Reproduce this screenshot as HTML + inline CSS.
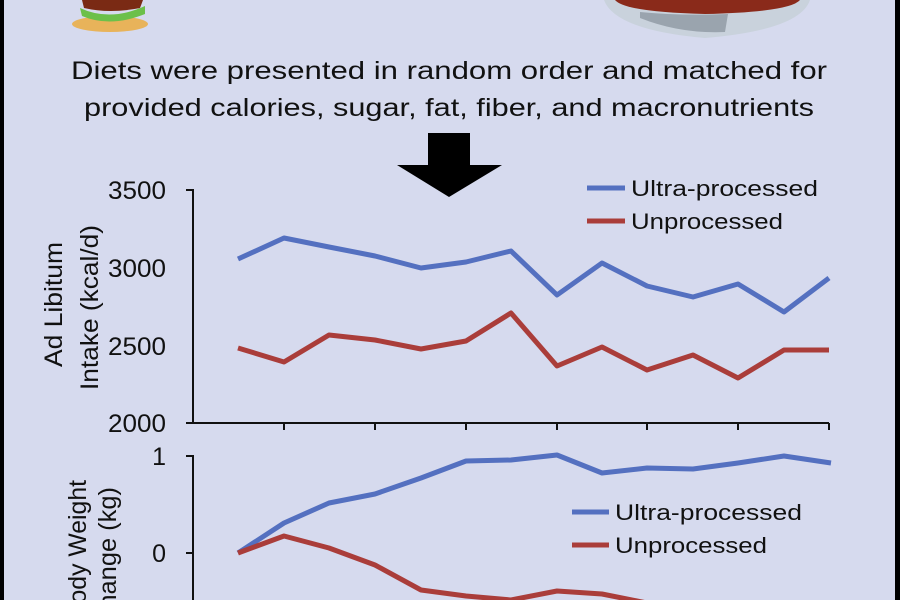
<!DOCTYPE html>
<html><head><meta charset="utf-8"><style>
html,body{margin:0;padding:0;background:#d6daee;}
svg{display:block}
text{font-family:"Liberation Sans",sans-serif;fill:#111}
</style></head><body>
<svg width="900" height="600" viewBox="0 0 900 600">
<rect x="0" y="0" width="900" height="600" fill="#d6daee"/>
<rect x="0" y="0" width="4" height="600" fill="#000"/>
<rect x="895" y="0" width="5" height="600" fill="#000"/>
<!-- burger -->
<ellipse cx="110" cy="24" rx="38" ry="8" fill="#e8b35a"/>
<path d="M80 8 Q110 22 145 6 L145 14 Q110 28 82 16Z" fill="#6cc04a"/>
<path d="M82 0 L143 0 L140 8 Q110 14 84 8Z" fill="#7a2a14"/>
<!-- bowl -->
<path d="M604 0 L810 0 Q800 30 705 38 Q615 30 604 0Z" fill="#c9d2dc"/>
<path d="M615 0 L800 0 Q790 12 705 14 Q625 12 615 0Z" fill="#8a2a1a"/>
<path d="M640 18 Q680 34 725 32 L728 14 Q680 16 640 12Z" fill="#9aa4ae"/>
<text x="449" y="79" font-size="25" text-anchor="middle" textLength="756" lengthAdjust="spacingAndGlyphs">Diets were presented in random order and matched for</text>
<text x="449" y="116" font-size="25" text-anchor="middle" textLength="730" lengthAdjust="spacingAndGlyphs">provided calories, sugar, fat, fiber, and macronutrients</text>
<polygon points="428,133 470,133 470,165 502,165 449,197 397,165 428,165" fill="#000"/>
<g stroke="#111" stroke-width="2" fill="none">
<path d="M186 190 H193 V423 H829"/>
<path d="M186 423 H193 M284 423 V430 M375 423 V430 M466 423 V430 M557 423 V430 M647 423 V430 M738 423 V430 M829 423 V430"/>
<path d="M186 456 H193 V600 M186 553 H193"/>
</g>
<g font-size="25" text-anchor="end">
<text x="166" y="199" textLength="58" lengthAdjust="spacingAndGlyphs">3500</text>
<text x="166" y="277" textLength="58" lengthAdjust="spacingAndGlyphs">3000</text>
<text x="166" y="355" textLength="58" lengthAdjust="spacingAndGlyphs">2500</text>
<text x="166" y="432" textLength="58" lengthAdjust="spacingAndGlyphs">2000</text>
<text x="166" y="465">1</text>
<text x="166" y="562">0</text>
</g>
<g font-size="25">
<text transform="translate(62,367) rotate(-90)" textLength="125" lengthAdjust="spacingAndGlyphs">Ad Libitum</text>
<text transform="translate(98,390) rotate(-90)" textLength="165" lengthAdjust="spacingAndGlyphs">Intake (kcal/d)</text>
<text transform="translate(86,620) rotate(-90)" textLength="140" lengthAdjust="spacingAndGlyphs">Body Weight</text>
<text transform="translate(116,627) rotate(-90)" textLength="140" lengthAdjust="spacingAndGlyphs">Change (kg)</text>
</g>
<g fill="none" stroke-width="5" stroke-linejoin="round">
<polyline stroke="#5470c0" points="238,259 284,238 329,247 375,256 421,268 466,262 511,251 557,295 602,263 647,286 693,297 738,284 784,312 829,278"/>
<polyline stroke="#aa3d3a" points="238,348 284,362 329,335 375,340 421,349 466,341 511,313 557,366 602,347 647,370 693,355 738,378 784,350 829,350"/>
<polyline stroke="#5470c0" points="238,553 284,523 329,503 375,494 421,478 466,461 511,460 557,455 602,473 647,468 693,469 738,463 784,456 831,463"/>
<polyline stroke="#aa3d3a" points="238,553 284,536 329,548 375,565 421,590 466,596 511,600 557,591 602,594 647,603 693,612"/>
<line x1="587" y1="188" x2="625" y2="188" stroke="#5470c0"/>
<line x1="587" y1="221" x2="625" y2="221" stroke="#aa3d3a"/>
<line x1="572" y1="512" x2="609" y2="512" stroke="#5470c0"/>
<line x1="572" y1="545" x2="609" y2="545" stroke="#aa3d3a"/>
</g>
<g font-size="22">
<text x="631" y="196" textLength="187" lengthAdjust="spacingAndGlyphs">Ultra-processed</text>
<text x="631" y="229" textLength="152" lengthAdjust="spacingAndGlyphs">Unprocessed</text>
<text x="615" y="520" textLength="187" lengthAdjust="spacingAndGlyphs">Ultra-processed</text>
<text x="615" y="553" textLength="152" lengthAdjust="spacingAndGlyphs">Unprocessed</text>
</g>
</svg>
</body></html>
